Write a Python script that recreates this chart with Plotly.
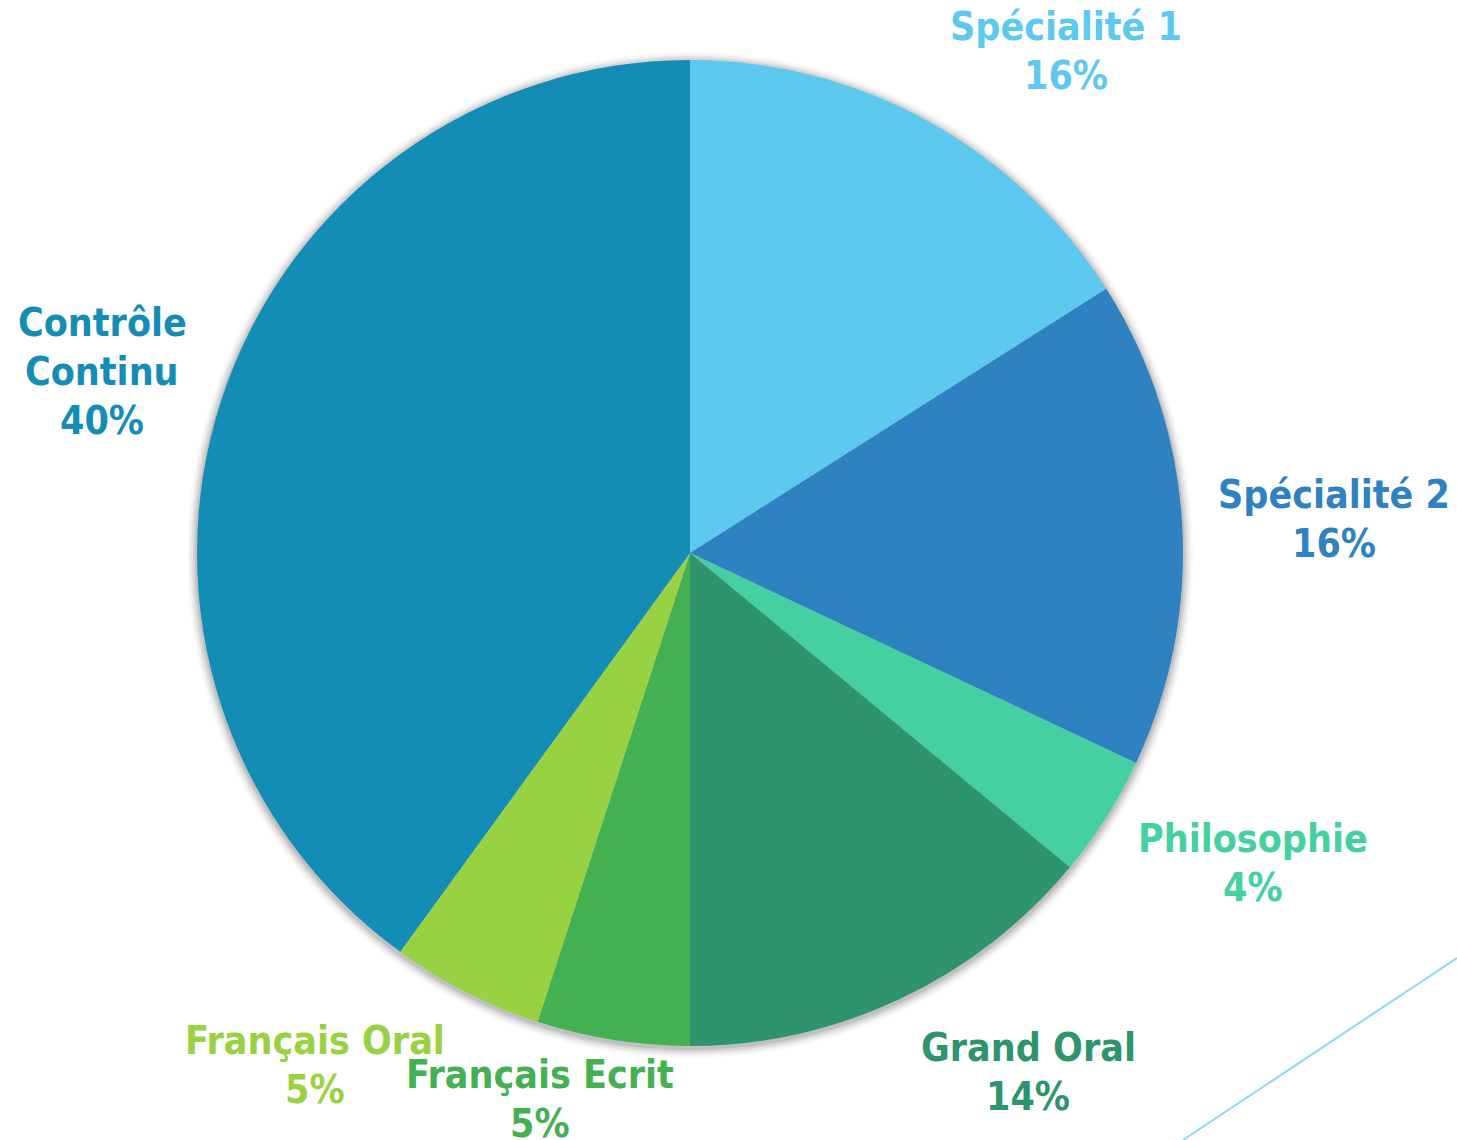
import plotly.graph_objects as go

labels = ["Spécialité 1", "Spécialité 2", "Philosophie", "Grand Oral",
          "Français Ecrit", "Français Oral", "Contrôle Continu"]
label_lines = [["Spécialité 1"], ["Spécialité 2"], ["Philosophie"], ["Grand Oral"],
               ["Français Ecrit"], ["Français Oral"], ["Contrôle", "Continu"]]
values = [16, 16, 4, 14, 5, 5, 40]
colors = ["#5DC9EE", "#2E82C2", "#44D0A0", "#2E946E", "#43B051", "#98D242", "#138DB5"]
# label block layout in pixels: x centre, y centre of first line
label_px = [(1066, 27), (1334, 494), (1253, 838), (1028, 1047),
            (540, 1074), (315, 1040), (102, 322)]
LINE_GAP = 49

W, H = 1457, 1140
cx, cy, r = 690, 553, 493

fig = go.Figure()
fig.add_trace(go.Pie(
    labels=labels, values=values, sort=False, direction="clockwise", rotation=0,
    marker=dict(colors=colors, line=dict(width=0)),
    textinfo="none", hoverinfo="label+percent", showlegend=False,
    domain=dict(x=[(cx - r) / W, (cx + r) / W], y=[1 - (cy + r) / H, 1 - (cy - r) / H]),
))

shapes = []
# soft shadow
for dr, op in [(10, 0.025), (8, 0.035), (6, 0.05), (4, 0.07), (2, 0.09)]:
    rr = r + dr
    oy = 2
    shapes.append(dict(type="circle", xref="paper", yref="paper", layer="below",
                       x0=(cx - rr) / W, x1=(cx + rr) / W,
                       y0=1 - (cy + oy + rr) / H, y1=1 - (cy + oy - rr) / H,
                       fillcolor=f"rgba(0,0,0,{op})", line=dict(width=0)))
shapes.append(dict(type="line", xref="paper", yref="paper",
                   x0=1183 / W, y0=0, x1=1.0, y1=1 - 958 / H,
                   line=dict(color="#8DD8F0", width=2)))

total = sum(values)
annotations = []
for lines, v, c, (px, py) in zip(label_lines, values, colors, label_px):
    all_lines = lines + [f"{round(100 * v / total)}%"]
    for k, t in enumerate(all_lines):
        annotations.append(dict(
            x=px / W, y=1 - (py + k * LINE_GAP) / H, xref="paper", yref="paper",
            text=t, showarrow=False, xanchor="center", yanchor="middle",
            font=dict(family="DejaVu Sans Condensed, DejaVu Sans", size=39,
                      color=c, weight="bold"),
        ))

fig.update_layout(
    width=W, height=H, margin=dict(l=0, r=0, t=0, b=0),
    paper_bgcolor="white", plot_bgcolor="white",
    shapes=shapes, annotations=annotations,
)
fig.write_html("out.html", config={"displayModeBar": False},
               post_script="document.body.style.margin='0';document.body.style.overflow='hidden';")
